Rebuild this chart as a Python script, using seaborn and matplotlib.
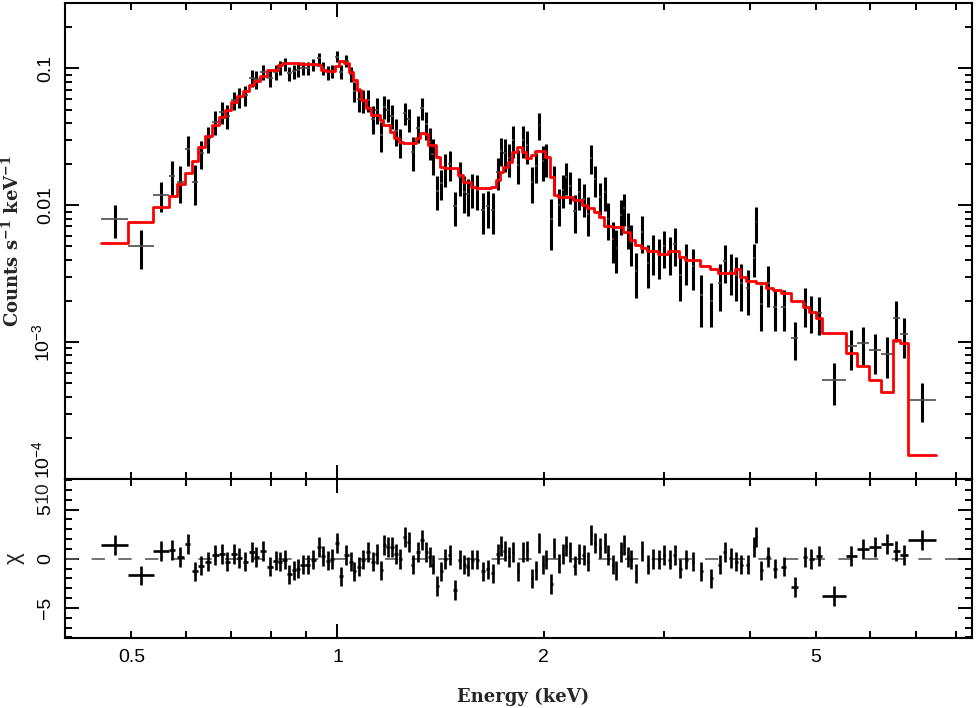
import numpy as np
import matplotlib
matplotlib.use("Agg")
import matplotlib.pyplot as plt
import matplotlib.ticker as mticker
import seaborn as sns

# X-ray spectrum: bin centre / half width (keV), rate and error, folded model, residuals
energy = [0.473, 0.517, 0.553, 0.573, 0.589, 0.604, 0.620, 0.632, 0.647, 0.663,
          0.678, 0.690, 0.706, 0.719, 0.734, 0.750, 0.761, 0.778, 0.796, 0.812,
          0.825, 0.837, 0.851, 0.863, 0.875, 0.890, 0.905, 0.922, 0.939, 0.952,
          0.968, 0.982, 0.998, 1.012, 1.030, 1.047, 1.059, 1.074, 1.089, 1.107,
          1.126, 1.141, 1.159, 1.171, 1.184, 1.202, 1.218, 1.235, 1.253, 1.271,
          1.288, 1.310, 1.330, 1.348, 1.363, 1.378, 1.398, 1.417, 1.438, 1.458,
          1.486, 1.508, 1.533, 1.550, 1.573, 1.600, 1.631, 1.658, 1.686, 1.715,
          1.735, 1.754, 1.780, 1.804, 1.835, 1.866, 1.891, 1.926, 1.952, 1.973,
          1.995, 2.018, 2.053, 2.075, 2.106, 2.134, 2.159, 2.183, 2.220, 2.252,
          2.288, 2.322, 2.348, 2.375, 2.415, 2.456, 2.483, 2.525, 2.555, 2.597,
          2.620, 2.655, 2.686, 2.732, 2.788, 2.841, 2.889, 2.948, 2.998, 3.056,
          3.108, 3.168, 3.233, 3.306, 3.401, 3.517, 3.616, 3.678, 3.753, 3.825,
          3.890, 3.977, 4.058, 4.091, 4.161, 4.254, 4.351, 4.485, 4.654, 4.814,
          4.923, 5.051, 5.316, 5.632, 5.857, 6.092, 6.347, 6.550, 6.720, 7.150]
energy_err = [0.022, 0.022, 0.0145, 0.006, 0.007, 0.006, 0.0065, 0.006, 0.0075, 0.0075,
              0.007, 0.006, 0.007, 0.006, 0.007, 0.007, 0.006, 0.008, 0.008, 0.007,
              0.006, 0.006, 0.007, 0.006, 0.006, 0.007, 0.007, 0.007, 0.007, 0.006,
              0.007, 0.006, 0.007, 0.007, 0.008, 0.008, 0.006, 0.007, 0.007, 0.008,
              0.008, 0.007, 0.007, 0.006, 0.006, 0.007, 0.007, 0.007, 0.007, 0.007,
              0.007, 0.008, 0.008, 0.007, 0.006, 0.006, 0.007, 0.007, 0.007, 0.008,
              0.009, 0.008, 0.008, 0.007, 0.008, 0.009, 0.009, 0.008, 0.008, 0.008,
              0.006, 0.006, 0.007, 0.007, 0.008, 0.007, 0.007, 0.007, 0.007, 0.006,
              0.006, 0.007, 0.009, 0.006, 0.008, 0.007, 0.006, 0.007, 0.008, 0.008,
              0.008, 0.008, 0.006, 0.007, 0.008, 0.008, 0.007, 0.008, 0.007, 0.008,
              0.006, 0.008, 0.007, 0.010, 0.010, 0.010, 0.010, 0.011, 0.010, 0.012,
              0.012, 0.013, 0.014, 0.016, 0.020, 0.022, 0.020, 0.016, 0.018, 0.017,
              0.018, 0.020, 0.015, 0.010, 0.020, 0.025, 0.030, 0.040, 0.050, 0.030,
              0.040, 0.050, 0.210, 0.110, 0.115, 0.123, 0.130, 0.074, 0.095, 0.340]
counts = [0.0079, 0.0050, 0.0119, 0.0164, 0.0149, 0.0257, 0.0149, 0.0240, 0.0308, 0.0407,
          0.0482, 0.0451, 0.0587, 0.0614, 0.0638, 0.0845, 0.0830, 0.0944, 0.0845, 0.0940,
          0.1020, 0.1080, 0.0920, 0.0950, 0.0970, 0.1010, 0.1010, 0.1060, 0.1190, 0.1010,
          0.0935, 0.0956, 0.1220, 0.0940, 0.1140, 0.0910, 0.0680, 0.0600, 0.0580, 0.0590,
          0.0430, 0.0500, 0.0324, 0.0526, 0.0500, 0.0450, 0.0350, 0.0290, 0.0470, 0.0425,
          0.0245, 0.0365, 0.0515, 0.0390, 0.0290, 0.0235, 0.0128, 0.0145, 0.0187, 0.0200,
          0.0098, 0.0162, 0.0126, 0.0120, 0.0133, 0.0129, 0.0092, 0.0098, 0.0092, 0.0175,
          0.0250, 0.0240, 0.0220, 0.0300, 0.0198, 0.0300, 0.0275, 0.0147, 0.0193, 0.0386,
          0.0210, 0.0222, 0.0079, 0.0155, 0.0101, 0.0130, 0.0160, 0.0138, 0.0091, 0.0125,
          0.0112, 0.0087, 0.0222, 0.0155, 0.0115, 0.0126, 0.0080, 0.0057, 0.0049, 0.0085,
          0.0095, 0.0068, 0.0054, 0.0033, 0.0064, 0.0038, 0.0046, 0.0043, 0.0050, 0.0045,
          0.0052, 0.0031, 0.0039, 0.0036, 0.0022, 0.0020, 0.0027, 0.0039, 0.0033, 0.0031,
          0.0027, 0.00248, 0.0041, 0.0075, 0.0019, 0.0027, 0.0018, 0.0018, 0.00107, 0.0019,
          0.00167, 0.00163, 0.00053, 0.00093, 0.00098, 0.00087, 0.00082, 0.0015, 0.00114, 0.00038]
counts_err = [0.0021, 0.0016, 0.0030, 0.0048, 0.0045, 0.0063, 0.0048, 0.0055, 0.0068, 0.0080,
              0.0090, 0.0090, 0.0090, 0.0100, 0.0110, 0.0120, 0.0120, 0.0120, 0.0120, 0.0120,
              0.0120, 0.0120, 0.0110, 0.0110, 0.0110, 0.0110, 0.0110, 0.0110, 0.0110, 0.0110,
              0.0110, 0.0110, 0.0110, 0.0110, 0.0120, 0.0110, 0.0110, 0.0120, 0.0110, 0.0110,
              0.0100, 0.0110, 0.0080, 0.0100, 0.0095, 0.0088, 0.0080, 0.0070, 0.0085, 0.0082,
              0.0068, 0.0080, 0.0095, 0.0090, 0.0075, 0.0068, 0.0035, 0.0035, 0.0050, 0.0050,
              0.0027, 0.0045, 0.0038, 0.0036, 0.0037, 0.0037, 0.0030, 0.0030, 0.0030, 0.0045,
              0.0058, 0.0065, 0.0060, 0.0080, 0.0055, 0.0080, 0.0075, 0.0043, 0.0048, 0.0085,
              0.0060, 0.0060, 0.0032, 0.0037, 0.0030, 0.0035, 0.0042, 0.0036, 0.0028, 0.0033,
              0.0030, 0.0027, 0.0052, 0.0040, 0.0030, 0.0035, 0.0024, 0.0019, 0.0017, 0.0024,
              0.0025, 0.0020, 0.0018, 0.0012, 0.0019, 0.0013, 0.0015, 0.0014, 0.0015, 0.0014,
              0.0016, 0.0011, 0.0013, 0.0012, 0.0009, 0.0007, 0.0010, 0.0012, 0.0011, 0.0011,
              0.0010, 0.0009, 0.0011, 0.0022, 0.0007, 0.0009, 0.0006, 0.0006, 0.00033, 0.0006,
              0.0005, 0.0005, 0.00018, 0.0003, 0.0003, 0.00028, 0.00027, 0.0005, 0.00037, 0.00012]
model = [0.00528, 0.00759, 0.00967, 0.0117, 0.0143, 0.0171, 0.0212, 0.0265, 0.0320, 0.0386,
         0.0439, 0.0496, 0.0570, 0.0628, 0.0686, 0.0755, 0.0812, 0.0879, 0.0972, 0.0972,
         0.1052, 0.1090, 0.1090, 0.1090, 0.1090, 0.1075, 0.1075, 0.1075, 0.1060, 0.0980,
         0.0956, 0.0956, 0.1040, 0.1136, 0.1090, 0.0945, 0.0820, 0.0695, 0.0587, 0.0510,
         0.0456, 0.0456, 0.0420, 0.0386, 0.0386, 0.0345, 0.0309, 0.0290, 0.0284, 0.0286,
         0.0286, 0.0310, 0.0335, 0.0330, 0.0275, 0.0275, 0.0226, 0.0191, 0.0188, 0.0186,
         0.0186, 0.0166, 0.0149, 0.0149, 0.0137, 0.0133, 0.0133, 0.0133, 0.0136, 0.0153,
         0.0176, 0.0190, 0.0208, 0.0246, 0.0268, 0.0246, 0.0220, 0.0233, 0.0250, 0.0250,
         0.0250, 0.0227, 0.0162, 0.0119, 0.0115, 0.0115, 0.0115, 0.0115, 0.0110, 0.0110,
         0.0101, 0.0095, 0.0095, 0.0090, 0.0082, 0.0070, 0.0070, 0.0069, 0.0069, 0.0069,
         0.0064, 0.0064, 0.0056, 0.0051, 0.0049, 0.0046, 0.0046, 0.0044, 0.0044, 0.0046,
         0.0046, 0.0042, 0.0040, 0.0040, 0.0036, 0.0034, 0.0032, 0.0032, 0.0032, 0.0034,
         0.0030, 0.0028, 0.0028, 0.0027, 0.0027, 0.0025, 0.0024, 0.0023, 0.0020, 0.0018,
         0.00166, 0.0015, 0.00116, 0.00084, 0.00067, 0.00053, 0.00043, 0.00104, 0.00098, 0.000151]
chi = [1.4, -1.7, 0.8, 0.9, 0.2, 1.5, -1.3, -0.7, -0.3, 0.4,
       0.5, -0.3, 0.5, 0.1, -0.3, 0.7, 0.2, 0.8, -0.8, -0.2,
       -0.3, -0.1, -1.6, -1.2, -1.0, -0.6, -0.6, -0.1, 1.2, 0.3,
       -0.2, 0.0, 1.6, -1.8, 0.4, -0.3, -1.3, -0.8, -0.1, 0.7,
       -0.3, 0.5, -1.2, 1.4, 1.2, 1.2, 0.5, 0.0, 2.2, 1.7,
       -0.6, 0.7, 1.9, 0.7, 0.2, -0.6, -2.8, -1.3, 0.0, 0.4,
       -3.2, -0.1, -0.6, -0.8, -0.1, -0.1, -1.3, -1.1, -1.5, 0.5,
       1.3, 0.8, 0.2, 0.7, -1.3, 0.7, 0.8, -2.0, -1.2, 1.6,
       -0.6, -0.1, -2.6, 1.1, -0.5, 0.5, 1.3, 0.7, -0.7, 0.5,
       0.4, -0.3, 2.4, 1.6, 1.1, 1.6, 0.4, -0.6, -1.2, 0.7,
       1.4, 0.2, -0.1, -1.5, 0.8, -0.6, 0.0, -0.1, 0.4, -0.1,
       0.4, -1.0, -0.1, -0.3, -1.3, -2.0, -0.6, 0.7, 0.1, -0.3,
       -0.6, -0.6, 1.2, 2.2, -1.2, 0.2, -1.0, -0.8, -2.9, 0.2,
       0.0, 0.3, -3.8, 0.3, 1.0, 1.2, 1.5, 0.8, 0.4, 1.9]

x_minor = [0.4, 0.5, 0.6, 0.7, 0.8, 0.9, 2, 3, 4, 5, 6, 7, 8]
x_minor_labels = ['', '0.5', '', '', '', '', '2', '', '', '5', '', '', '']
y_major = [1e-4, 1e-3, 1e-2, 1e-1]
y_major_labels = [r'$10^{-4}$', r'$10^{-3}$', '0.01', '0.1']

sns.set_theme(style="ticks")
plt.rcParams['font.family'] = ['Liberation Sans', 'DejaVu Sans']
plt.rcParams['mathtext.fontset'] = 'custom'
plt.rcParams['mathtext.rm'] = 'Liberation Sans'
plt.rcParams['mathtext.bf'] = 'DejaVu Serif:bold'
plt.rcParams['axes.linewidth'] = 1.5

e = np.array(energy)
de = np.array(energy_err)
edges = np.append(e - de, e[-1] + de[-1])
steps = np.append(model, model[-1])

fig = plt.figure(figsize=(9.76, 7.08), dpi=100)
ax1 = fig.add_axes([0.0666, 0.3234, 0.9293, 0.6723])
ax2 = fig.add_axes([0.0666, 0.0984, 0.9293, 0.225], sharex=ax1)

ax1.set_xscale('log')
ax1.set_yscale('log')

# data
ax1.errorbar(e, counts, yerr=counts_err, fmt='none', ecolor='black', elinewidth=2.2)
ax1.errorbar(e, counts, xerr=de, fmt='none', ecolor='0.3', elinewidth=1.2)
# model
sns.lineplot(x=edges, y=steps, drawstyle='steps-post', color='red', linewidth=2,
             sort=False, estimator=None, ax=ax1)

ax2.axhline(0, color='0.35', ls=(0, (8, 8)), lw=1.2)
ax2.errorbar(e, chi, xerr=de, yerr=1, fmt='none', ecolor='black', elinewidth=1.9)

ax1.set_xlim(0.4, 8.45)
ax1.set_ylim(1e-4, 0.3)
ax2.set_ylim(-8.1, 8.1)

ax1.xaxis.set_major_locator(mticker.FixedLocator([1]))
ax1.xaxis.set_major_formatter(mticker.FixedFormatter(['1']))
ax1.xaxis.set_minor_locator(mticker.FixedLocator(x_minor))
ax1.xaxis.set_minor_formatter(mticker.FixedFormatter(x_minor_labels))

ax1.yaxis.set_major_locator(mticker.FixedLocator(y_major))
ax1.yaxis.set_major_formatter(mticker.FixedFormatter(y_major_labels))
ax1.yaxis.set_minor_locator(mticker.LogLocator(base=10, subs=np.arange(2, 10)))
ax1.yaxis.set_minor_formatter(mticker.NullFormatter())

ax2.yaxis.set_major_locator(mticker.FixedLocator([-5, 0, 5]))
ax2.yaxis.set_major_formatter(mticker.FixedFormatter(['\u22125', '0', '5']))
ax2.yaxis.set_minor_locator(mticker.MultipleLocator(1))

for ax in (ax1, ax2):
    ax.tick_params(which='both', direction='in', top=True, right=True,
                   width=1.4, colors='black', labelsize=14, pad=8)
    ax.tick_params(which='major', length=10)
    ax.tick_params(which='minor', length=5)
    for sp in ax.spines.values():
        sp.set_color('black')
    plt.setp(ax.get_yticklabels(), rotation=90, va='center', ha='right')
ax1.tick_params(which='both', labelbottom=False)
# lowest label of the upper panel sits above its tick, as in the original
ax1.get_yticklabels()[0].set_va('bottom')

ax2.text(-0.024, 6.8, '10', transform=ax2.get_yaxis_transform(), rotation=90,
         ha='center', va='center', fontsize=14)

ax1.set_ylabel(r'Counts s$^{\mathbf{-1}}$ keV$^{\mathbf{-1}}$', fontfamily='DejaVu Serif',
               fontweight='bold', fontsize=13)
ax1.yaxis.set_label_coords(-0.046, 0.5)
ax2.set_ylabel('\u03c7', fontsize=16)
ax2.yaxis.set_label_coords(-0.044, 0.5)
ax2.set_xlabel('Energy (keV)', fontfamily='DejaVu Serif', fontweight='bold', fontsize=13)
ax2.xaxis.set_label_coords(0.505, -0.31)

fig.savefig('out.png', dpi=100)
